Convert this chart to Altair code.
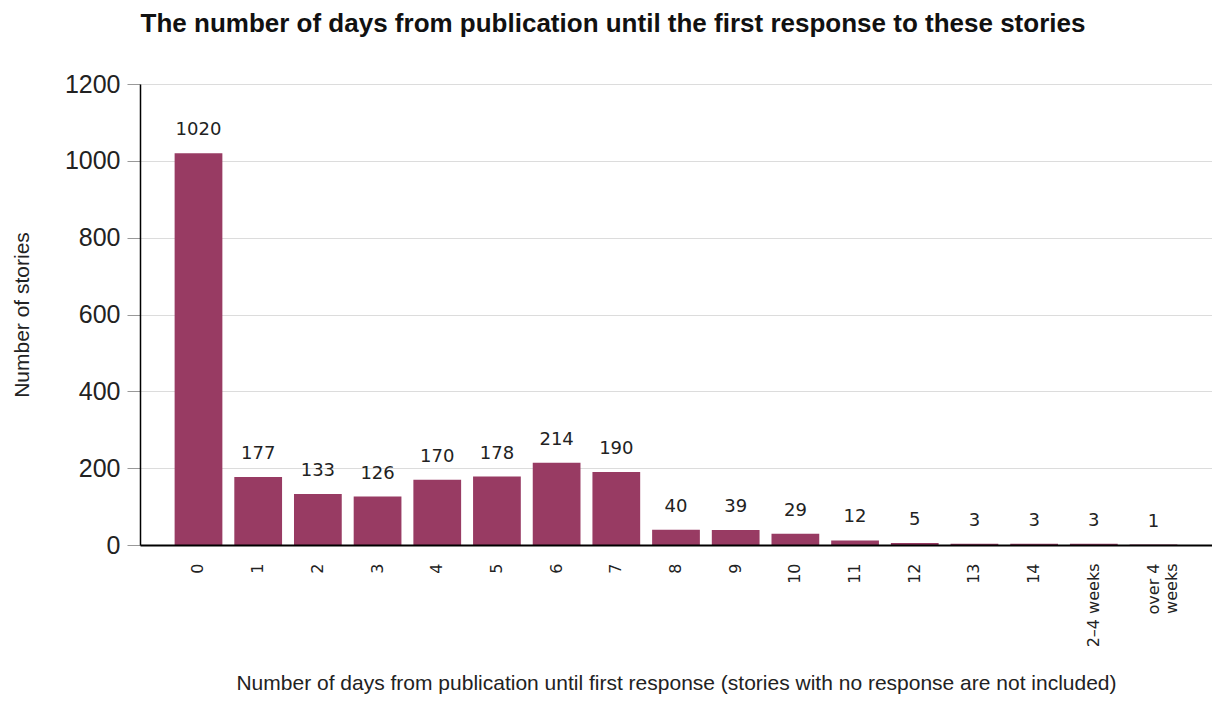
import altair as alt
import pandas as pd

categories = ["0", "1", "2", "3", "4", "5", "6", "7", "8", "9", "10",
              "11", "12", "13", "14", "2–4 weeks", "over 4 weeks"]
counts = [1020, 177, 133, 126, 170, 178, 214, 190, 40, 39, 29, 12, 5, 3, 3, 3, 1]
y_ticks = [0, 200, 400, 600, 800, 1000, 1200]

df = pd.DataFrame({"category": categories, "count": counts})

BAR = "#983b63"
TXT = "#222222"

base = alt.Chart(df).encode(
    x=alt.X(
        "category:N",
        sort=categories,
        scale=alt.Scale(paddingInner=0.2, paddingOuter=0.58),
        axis=alt.Axis(
            labelAngle=-90,
            ticks=False,
            grid=False,
            domainColor="black",
            domainWidth=2,
            labelFont="DejaVu Sans",
            labelFontSize=16,
            labelColor=TXT,
            labelPadding=18,
            labelExpr="datum.value == 'over 4 weeks' ? ['over 4', 'weeks'] : datum.label",
            title="Number of days from publication until first response (stories with no response are not included)",
            titleFont="Liberation Sans",
            titleFontSize=21,
            titleFontWeight="normal",
            titleColor=TXT,
            titlePadding=26,
            zindex=1,
        ),
    ),
    y=alt.Y(
        "count:Q",
        scale=alt.Scale(domain=[0, 1200]),
        axis=alt.Axis(
            values=y_ticks,
            format="d",
            grid=True,
            gridColor="#dcdcdc",
            gridWidth=1,
            domainColor="black",
            domainWidth=1.5,
            tickColor="#999999",
            tickSize=13,
            labelFont="Liberation Sans",
            labelFontSize=25,
            labelColor=TXT,
            labelPadding=7,
            title="Number of stories",
            titleFont="Liberation Sans",
            titleFontSize=21,
            titleFontWeight="normal",
            titleColor=TXT,
            titlePadding=32,
        ),
    ),
)

bars = base.mark_bar(color=BAR)
labels = base.mark_text(
    baseline="alphabetic", dy=-18, font="DejaVu Sans", fontSize=18, color=TXT
).encode(text="count:Q")

chart = (
    (bars + labels)
    .properties(
        width=1072,
        height=461,
        title=alt.Title(
            "The number of days from publication until the first response to these stories",
            font="Liberation Sans",
            fontSize=26,
            fontWeight="bold",
            color="#111111",
            anchor="middle",
            dx=-63,
            baseline="alphabetic",
            offset=14,
        ),
        autosize=alt.AutoSizeParams(type="none"),
        padding={"left": 132, "top": 76, "right": 0, "bottom": 149},
    )
    .configure_view(stroke=None)
)

chart.save("out.html", embed_options={"renderer": "svg", "actions": False})
